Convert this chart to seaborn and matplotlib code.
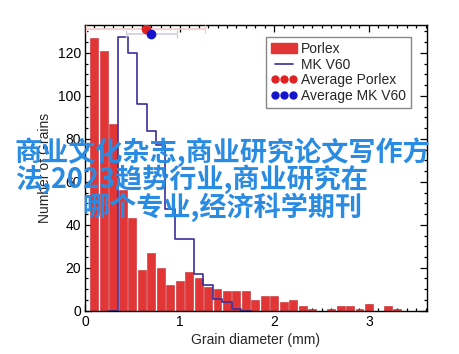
import numpy as np
import pandas as pd
import matplotlib
matplotlib.use("Agg")
import matplotlib.pyplot as plt
import seaborn as sns
from matplotlib.patches import Patch
from matplotlib.lines import Line2D
from matplotlib.ticker import MultipleLocator

# ---- data ----
porlex_centers = [0.1, 0.2, 0.3, 0.4, 0.5, 0.6, 0.7, 0.8, 0.9, 1.0, 1.1, 1.2, 1.3,
                  1.4, 1.5, 1.6, 1.7, 1.8, 1.9, 2.0, 2.1, 2.2, 2.3, 2.4, 2.5, 2.6,
                  2.7, 2.8, 2.9, 3.0, 3.1, 3.2, 3.3]
porlex_counts = [127, 121, 87, 56, 43, 19, 27, 20, 12, 14, 18, 15, 11,
                 10, 9, 9, 9, 5, 7, 7, 4, 5, 2, 1, 0, 1,
                 2, 2, 1, 3, 0, 2, 1]
mk_centers = [0.3, 0.4, 0.5, 0.6, 0.7, 0.8, 0.9, 1.0, 1.1, 1.2, 1.3, 1.4, 1.5, 1.6, 1.7]
mk_counts = [0, 127.5, 120, 96, 83.5, 77, 47.5, 33.6, 33.6, 17, 12, 5.5, 4, 1, 0]
avg_porlex = 0.64
avg_porlex_err = 0.63
avg_porlex_y = 131.3
avg_mk = 0.70
avg_mk_err = 0.27
avg_mk_y = 128.7

series_labels = ["Porlex", "MK V60", "Average Porlex", "Average MK V60"]
x_label = "Grain diameter (mm)"
y_label = "Number of Grains"
watermark = ["商业文化杂志,商业研究论文写作方",
             "法,2023趋势行业,商业研究在",
             "哪个专业,经济科学期刊"]

RED = "#e23636"
NAVY = "#3a2f9c"

sns.set_style("ticks")
plt.rcParams["font.family"] = ["Liberation Sans", "DejaVu Sans"]

fig = plt.figure(figsize=(4.6, 3.54), dpi=100)
ax = fig.add_axes([85 / 460, 1 - 310.7 / 354, (426.7 - 85) / 460, (310.7 - 25) / 354])

porlex_df = pd.DataFrame({"d": porlex_centers, "n": porlex_counts})
mk_df = pd.DataFrame({"d": mk_centers, "n": mk_counts})

p_edges = [round(0.05 + 0.1 * i, 3) for i in range(len(porlex_centers) + 1)]
sns.histplot(data=porlex_df, x="d", weights="n", bins=p_edges, color=RED,
             alpha=1, shrink=0.84, linewidth=0.4, edgecolor="#c42a30", ax=ax)
m_edges = [round(0.25 + 0.1 * i, 3) for i in range(len(mk_centers) + 1)]
sns.histplot(data=mk_df, x="d", weights="n", bins=m_edges, element="step",
             fill=False, color=NAVY, linewidth=1.2, ax=ax)

ax.errorbar([avg_porlex], [avg_porlex_y], xerr=[avg_porlex_err], fmt="none",
            ecolor="#f3caca", elinewidth=1.2, capsize=3, zorder=4, clip_on=False)
ax.errorbar([avg_mk], [avg_mk_y], xerr=[avg_mk_err], fmt="none",
            ecolor="#cfd0de", elinewidth=1.2, capsize=3, zorder=4)
ax.plot([avg_porlex], [avg_porlex_y], "o", color="#e02222", ms=6, zorder=5)
ax.plot([avg_mk], [avg_mk_y], "o", color="#1414cc", ms=6, zorder=6)

ax.set_xlim(0, 3.61)
ax.set_ylim(0, 133)
ax.xaxis.set_major_locator(MultipleLocator(1))
ax.xaxis.set_minor_locator(MultipleLocator(0.1))
ax.yaxis.set_major_locator(MultipleLocator(20))
ax.yaxis.set_minor_locator(MultipleLocator(5))
ax.tick_params(which="both", direction="in", top=True, right=True, colors="black",
               labelsize=10, width=0.9)
ax.tick_params(which="major", length=5, pad=3)
ax.tick_params(which="minor", length=2.5)
for s in ax.spines.values():
    s.set_visible(True)
    s.set_color("black")
    s.set_linewidth(1.0)
ax.set_xlabel(x_label, fontsize=10, labelpad=3)
ax.set_ylabel(y_label, fontsize=10, labelpad=4)

handles = [Patch(facecolor=RED, edgecolor=RED),
           Line2D([], [], color=NAVY, lw=1.2),
           Line2D([], [], marker="o", color="#e02222", ls="none", ms=5),
           Line2D([], [], marker="o", color="#1414cc", ls="none", ms=5)]
leg = ax.legend(handles, series_labels, loc="upper right",
                bbox_to_anchor=(0.954, 0.958), borderaxespad=0, fontsize=10,
                numpoints=3, handlelength=1.9, handletextpad=0.3,
                labelspacing=0.12, borderpad=0.35, fancybox=False,
                framealpha=1, edgecolor="#888888")
leg.get_frame().set_linewidth(1.0)

ys = [152, 179.5, 207]
xs = [15, 15, 82]
for t, x, y in zip(watermark, xs, ys):
    fig.text(x / 460, 1 - y / 354, t, fontsize=19.5, fontweight="bold",
             color="#2a8be3", va="center", ha="left",
             family=["Noto Sans CJK SC", "DejaVu Sans"], zorder=10)

fig.savefig("out.png", dpi=100)
